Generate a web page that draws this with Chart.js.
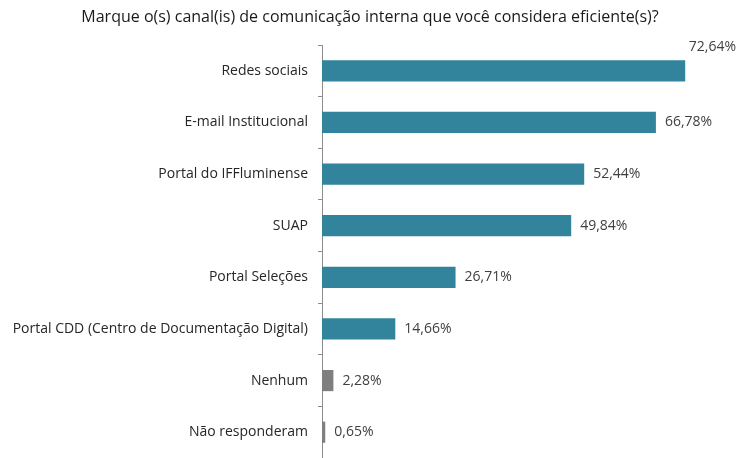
<!DOCTYPE html>
<html>
<head>
<meta charset="utf-8">
<script src="https://cdn.jsdelivr.net/npm/chart.js@4"></script>
<style>
  html, body { margin: 0; padding: 0; background: #fff; }
  #wrap { width: 737px; height: 458px; }
</style>
</head>
<body>
<div id="wrap"><canvas id="graf"></canvas></div>
<script>
// dados
var canais = ['Redes sociais', 'E-mail Institucional', 'Portal do IFFluminense', 'SUAP',
  'Portal Seleções', 'Portal CDD (Centro de Documentação Digital)', 'Nenhum', 'Não responderam'];
var percentuais = [72.64, 66.78, 52.44, 49.84, 26.71, 14.66, 2.28, 0.65];
var cores = ['#31849B', '#31849B', '#31849B', '#31849B', '#31849B', '#31849B', '#7F7F7F', '#7F7F7F'];
var titulo = 'Marque o(s) canal(is) de comunicação interna que você considera eficiente(s)?';

var FONTE = "'Open Sans', sans-serif";

function $each(arr, fn) { for (var i = 0; i < arr.length; i++) fn(i, arr[i]); }

// titulo desenhado a mao (centralizado como no original)
var tituloPlugin = {
  id: 'tituloPlugin',
  afterDraw: function(chart) {
    var ctx = chart.ctx;
    ctx.save();
    ctx.font = '16px ' + FONTE;
    ctx.fillStyle = '#1a1a1a';
    ctx.textAlign = 'center';
    ctx.textBaseline = 'middle';
    ctx.fillText(titulo, 370, 17);
    ctx.restore();
  }
};

// rotulos de valor ao lado das barras
var rotulos = {
  id: 'rotulos',
  afterDatasetsDraw: function(chart) {
    var ctx = chart.ctx;
    var meta = chart.getDatasetMeta(0);
    ctx.save();
    ctx.font = '14px ' + FONTE;
    ctx.fillStyle = '#404040';
    ctx.textBaseline = 'middle';
    $each(meta.data, function(i, bar) {
      var txt = percentuais[i].toFixed(2).replace('.', ',') + '%';
      var w = ctx.measureText(txt).width;
      var x = bar.x + 9, y = bar.y;
      if (x + w > chart.width - 1) {
        x = chart.width - 1 - w;
        y = bar.y - bar.height / 2 - 13;
      }
      ctx.textAlign = 'left';
      ctx.fillText(txt, x, y);
    });
    ctx.restore();
  }
};

var ctx = document.getElementById('graf').getContext('2d');
var grafico = new Chart(ctx, {
  type: 'bar',
  data: {
    labels: canais,
    datasets: [{
      data: percentuais,
      backgroundColor: cores,
      barPercentage: 0.41,
      categoryPercentage: 1
    }]
  },
  options: {
    indexAxis: 'y',
    responsive: true,
    maintainAspectRatio: false,
    animation: false,
    layout: { padding: { left: 0, right: 15, top: 45, bottom: 0 } },
    plugins: {
      legend: { display: false },
      tooltip: { enabled: false },
      title: { display: false }
    },
    scales: {
      x: { display: false, min: 0, max: 80 },
      y: {
        afterFit: function(scale) {
          scale.width = 322;
          scale.paddingTop = 0;
          scale.paddingBottom = 0;
        },
        border: { display: true, color: '#8C8C8C', width: 1 },
        grid: { display: true, drawOnChartArea: false, drawTicks: true, tickLength: 4, color: '#8C8C8C', offset: true },
        ticks: { color: '#262626', padding: 10, font: { family: FONTE, size: 14 } }
      }
    }
  },
  plugins: [rotulos, tituloPlugin]
});
</script>
</body>
</html>
